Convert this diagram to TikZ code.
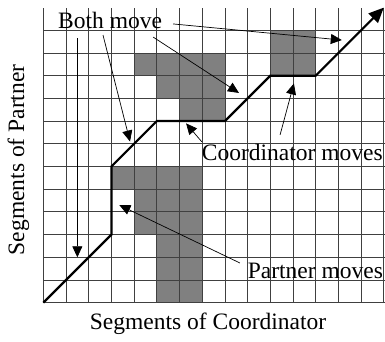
\documentclass[tikz,border=0pt]{standalone}
\usepackage{fontspec}
\setmainfont{Liberation Serif}
\usetikzlibrary{arrows.meta}
\begin{document}
\begin{tikzpicture}[x=22.7pt,y=22.7pt,
  gridline/.style={draw=black!75,line width=0.8pt},
  cellfill/.style={fill=black!50},
  pathline/.style={line width=2.2pt,line join=miter,-{Triangle[length=15pt,width=13pt]}},
  pointer/.style={line width=0.7pt,-{Triangle[length=11pt,width=10pt]}},
  lbl/.style={font=\fontsize{23.5pt}{28pt}\selectfont,inner sep=0pt}]
\useasboundingbox (-1.9075,-1.7313) rectangle (15.0529,13.3348);
% shaded cells
\fill[cellfill] (4,10) rectangle (8,11);
\fill[cellfill] (5,9) rectangle (8,10);
\fill[cellfill] (6,8) rectangle (8,9);
\fill[cellfill] (10,10) rectangle (12,12);
\fill[cellfill] (3,5) rectangle (7,6);
\fill[cellfill] (4,3) rectangle (7,5);
\fill[cellfill] (5,0) rectangle (7,3);
% grid
\foreach \r in {0,...,12} \draw[gridline] (0,\r) -- (15.06,\r);
\foreach \c in {0,...,15} \draw[gridline] (\c,0) -- (\c,13);
% path
\draw[pathline] (0,0) -- (3,3) -- (3,6) -- (5,8) -- (8,8) -- (10,10) -- (12,10) -- (15,13);
% labels
\node[lbl,anchor=base west] (both) at (0.648,12.08) {Both move};
\node[lbl,anchor=base west] (coord) at (6.98,6.255) {Coordinator moves};
\node[lbl,anchor=base west] (partner) at (9.0,1.044) {Partner moves};
\node[lbl,anchor=base] (xlab) at (7.256,-1.20) {Segments of Coordinator};
\node[lbl,anchor=base,rotate=90] (ylab) at (-0.85,6.29) {Segments of Partner};
% arrow ends
\coordinate (vS) at (1.5,11.65);  \coordinate (vT) at (1.5,2.0);
\coordinate (b1S) at (2.63,11.79); \coordinate (b1T) at (3.82,7.1);
\coordinate (b2S) at (4.84,11.70); \coordinate (b2T) at (8.62,9.24);
\coordinate (b3S) at (5.72,12.28); \coordinate (b3T) at (13.15,11.57);
\coordinate (c1S) at (6.98,7.09);  \coordinate (c1T) at (6.29,7.9);
\coordinate (c2S) at (10.43,7.39); \coordinate (c2T) at (11.04,9.66);
\coordinate (p1S) at (8.66,1.75);  \coordinate (p1T) at (3.35,4.3);
\draw[pointer] (vS) -- (vT);
\draw[pointer] (b1S) -- (b1T);
\draw[pointer] (b2S) -- (b2T);
\draw[pointer] (b3S) -- (b3T);
\draw[pointer] (c1S) -- (c1T);
\draw[pointer] (c2S) -- (c2T);
\draw[pointer] (p1S) -- (p1T);
\end{tikzpicture}
\end{document}
